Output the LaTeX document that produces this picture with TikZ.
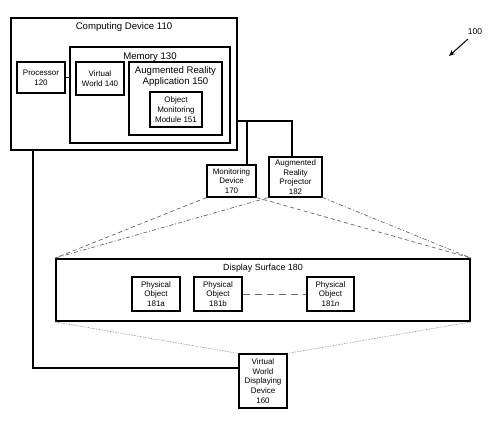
\documentclass[tikz,border=0pt]{standalone}
\usepackage{fontspec}
\setmainfont{Liberation Sans}
\usetikzlibrary{arrows.meta}
\begin{document}
\begin{tikzpicture}[x=1pt,y=-1pt,
  box/.style={draw, line width=1.1pt, inner sep=0pt, align=center, font=\fontsize{8}{9.7}\selectfont},
  bigbox/.style={draw, line width=1.9pt, inner sep=0pt},
  midbox/.style={draw, line width=1.2pt, inner sep=0pt},
  title/.style={inner sep=0pt, align=center, font=\fontsize{9.6}{11}\selectfont},
  conn/.style={line width=1.1pt},
  fov/.style={line width=0.7pt, black!60, dash pattern=on 4pt off 3pt},
  fovb/.style={line width=0.7pt, black!60, dash pattern=on 4pt off 2pt on 1pt off 2pt},
  view/.style={line width=0.6pt, black!55, densely dotted},
  more/.style={line width=0.8pt, black!60, dash pattern=on 7pt off 5pt}]
\useasboundingbox (0,0) rectangle (500,427);
% computing device
\node[bigbox, minimum width=226, minimum height=132] (cd) at (124,84) {};
\node[title] (cdt) at (124,27) {Computing Device 110};
\node[box, minimum width=48, minimum height=31] (proc) at (41,77.5) {Processor\\120};
\node[bigbox, minimum width=160, minimum height=96] (mem) at (150,95) {};
\node[title] (memt) at (150,57) {Memory 130};
\node[box, minimum width=48, minimum height=33] (vw) at (100,78.5) {Virtual\\World 140};
\node[midbox, minimum width=93, minimum height=73] (ar) at (175.5,98.5) {};
\node[title] (art) at (175.5,76.5) {Augmented Reality\\Application 150};
\node[box, minimum width=52, minimum height=35] (omm) at (176,109.5) {Object\\Monitoring\\Module 151};
% devices
\node[box, minimum width=49, minimum height=32] (mon) at (231.5,181) {Monitoring\\Device\\170};
\node[box, minimum width=53, minimum height=40] (arp) at (295.5,177) {Augmented\\Reality\\Projector\\182};
% display surface
\node[bigbox, minimum width=414, minimum height=62] (ds) at (263,290) {};
\node[title, font=\fontsize{8.9}{10.5}\selectfont] (dst) at (263,268) {Display Surface 180};
\node[box, minimum width=48, minimum height=34] (p1) at (156,294) {Physical\\Object\\181a};
\node[box, minimum width=48, minimum height=34] (p2) at (218,294) {Physical\\Object\\181b};
\node[box, minimum width=47, minimum height=34] (pn) at (330.5,294) {Physical\\Object\\181\textit{n}};
\node[box, minimum width=48, minimum height=54] (vwd) at (263,381) {Virtual\\World\\Displaying\\Device\\160};
% reference label
\node[inner sep=0pt, font=\fontsize{8.5}{10}\selectfont] (ref) at (475,32) {100};
\coordinate (refa) at (468,39);
\coordinate (refb) at (449,56);
\draw[line width=1pt, -{Stealth[length=6pt,width=5pt]}] (refa) -- (refb);
% connectors
\draw[conn] (proc.east) -- (proc.east -| mem.west);
\coordinate (j1) at (247,121);
\coordinate (j2) at (292,121);
\coordinate (j3) at (33,368);
\draw[conn] (cd.east |- j1) -- (j2) -- (j2 |- arp.north);
\draw[conn] (j1) -- (j1 |- mon.north);
\draw[conn] (j3 |- cd.south) -- (j3) -- (j3 -| vwd.west);
% fields of view
\draw[fov] (mon.south west) -- (ds.north west);
\draw[fov] (mon.south east) -- (ds.north east);
\draw[fovb] (arp.south west) -- (ds.north west);
\draw[fovb] (arp.south east) -- (ds.north east);
\draw[view] (ds.south west) -- (vwd.north west);
\draw[view] (ds.south east) -- (vwd.north east);
\draw[more] (p2.east) -- (pn.west);
\end{tikzpicture}
\end{document}
